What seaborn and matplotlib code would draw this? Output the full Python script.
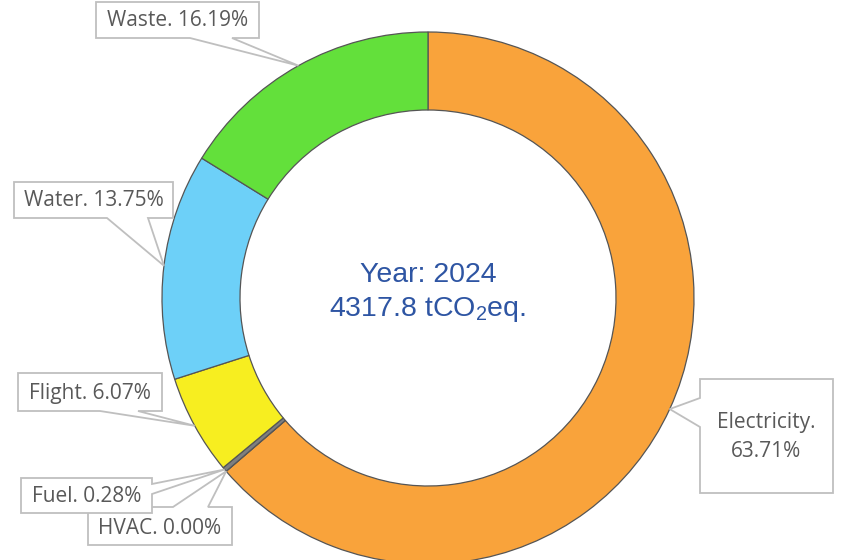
import numpy as np
import matplotlib
matplotlib.use("Agg")
import matplotlib.pyplot as plt
import seaborn as sns
from matplotlib.patches import Polygon

sns.set_theme(style="white")
plt.rcParams['font.family'] = ['Open Sans', 'DejaVu Sans']

categories = ['Electricity', 'HVAC', 'Fuel', 'Flight', 'Water', 'Waste']
shares = [63.71, 0.00, 0.28, 6.07, 13.75, 16.19]
colors = ['#F9A33B', '#A5A5A5', '#7F7F7F', '#F7EE20', '#6DD0F8', '#63E03B']
year = 2024
total = 4317.8

W, H = 846, 560
cx, cy = 428, 298   # pixel coords, y from top
R = 266
ring = 78


def Y(p):
    return H - p


fig = plt.figure(figsize=(W / 100, H / 100), dpi=100)
ax = fig.add_axes([0, 0, 1, 1])
wedges, _ = ax.pie(shares, colors=colors, startangle=90, counterclock=False,
                   center=(cx, Y(cy)), radius=R,
                   wedgeprops=dict(width=ring, edgecolor='#555555', linewidth=0.9))
ax.set_xlim(0, W)
ax.set_ylim(0, H)
ax.axis('off')


def anchor(w):
    a = np.deg2rad((w.theta1 + w.theta2) / 2)
    return (cx + R * np.cos(a), Y(cy) + R * np.sin(a))


# callout boxes: (x0, y0, x1, y1), pointer side, base start, base end
callouts = {
    'Electricity': ((700, 379, 833, 493), 'left', 398, 427),
    'HVAC': ((88, 507, 232, 545), 'top', 173, 208),
    'Fuel': ((21, 478, 152, 513), 'right', 484, 494),
    'Flight': ((18, 373, 162, 411), 'bottom', 100, 138),
    'Water': ((14, 182, 173, 218), 'bottom', 107, 148),
    'Waste': ((96, 2, 259, 38), 'bottom', 190, 232),
}
text_y = {'Electricity': 437, 'HVAC': 528, 'Fuel': 497, 'Flight': 393,
          'Water': 201, 'Waste': 21}

for z, name in enumerate(categories):
    (x0, y0, x1, y1), side, b1, b2 = callouts[name]
    idx = categories.index(name)
    pt = anchor(wedges[idx])
    if side == 'bottom':
        pts = [(x0, y0), (x1, y0), (x1, y1), (b2, y1), None, (b1, y1), (x0, y1)]
    elif side == 'top':
        pts = [(x0, y0), (b1, y0), None, (b2, y0), (x1, y0), (x1, y1), (x0, y1)]
    elif side == 'right':
        pts = [(x0, y0), (x1, y0), (x1, b1), None, (x1, b2), (x1, y1), (x0, y1)]
    else:
        pts = [(x0, y0), (x1, y0), (x1, y1), (x0, y1), (x0, b2), None, (x0, b1)]
    verts = [pt if p is None else (p[0], Y(p[1])) for p in pts]
    ax.add_patch(Polygon(verts, closed=True, facecolor='white',
                         edgecolor='#BFBFBF', linewidth=1.3, zorder=3 + z))
    if name == 'Electricity':
        label = f"{name}.\n{shares[idx]:.2f}%"
    else:
        label = f"{name}. {shares[idx]:.2f}%"
    ax.text((x0 + x1) / 2, Y(text_y[name]), label, ha='center', va='center',
            fontsize=15, color='#595959', linespacing=1.45, zorder=3 + z)

ax.text(cx, Y(275), f"Year: {year}", ha='center', va='center', fontsize=20.5,
        color='#2E55A3', family=['Liberation Sans', 'DejaVu Sans'])
ax.text(cx, Y(309), f"{total} tCO$_\\mathregular{{2}}$eq.", ha='center',
        va='center', fontsize=20.5, color='#2E55A3',
        family=['Liberation Sans', 'DejaVu Sans'])

fig.savefig('out.png', dpi=100, facecolor='white')
